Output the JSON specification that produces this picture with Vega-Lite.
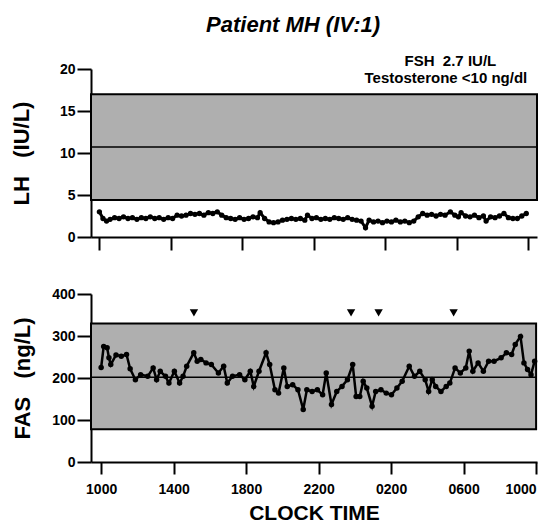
{
  "$schema": "https://vega.github.io/schema/vega-lite/v6.json",
  "padding": {"left": 10, "top": 14, "right": 0, "bottom": 0},
  "title": {"text": "Patient MH (IV:1)", "font": "Liberation Sans", "fontSize": 22, "fontStyle": "italic", "fontWeight": "bold", "color": "black", "anchor": "middle", "dx": 18, "offset": 17},
  "config": {
    "view": {"stroke": null},
    "font": "Liberation Sans",
    "axis": {"domainColor": "black", "domainWidth": 2, "tickColor": "black", "tickWidth": 2, "grid": false, "labelFont": "Liberation Sans", "labelFontWeight": "bold", "labelFontSize": 14, "labelColor": "black", "titleFont": "Liberation Sans", "titleFontSize": 22, "titleFontWeight": "bold", "titleColor": "black"}
  },
  "datasets": {
    "bandTop": [{"t": -0.47, "t2": 24.5, "v": 4.4, "v2": 17.0}],
    "midTop": [{"t": -0.47, "t2": 24.5, "v": 10.7}],
    "bandBottom": [{"t": -0.56, "t2": 24.0, "v": 78, "v2": 330}],
    "midBottom": [{"t": -0.56, "t2": 24.0, "v": 202}],
    "notes": [{"t": 19.65, "v": 20.3, "label": "FSH\u00a0\u00a02.7 IU/L"}, {"t": 19.4, "v": 18.3, "label": "Testosterone <10 ng/dl"}],
    "arrows": [{"t": 5.12, "v": 355}, {"t": 13.79, "v": 355}, {"t": 15.31, "v": 355}, {"t": 19.45, "v": 355}],
    "lh": [
      {"t": 0, "v": 3.0}, {"t": 0.2, "v": 2.2}, {"t": 0.4, "v": 1.9}, {"t": 0.6, "v": 2.1}, {"t": 0.85, "v": 2.3},
      {"t": 1.1, "v": 2.2}, {"t": 1.35, "v": 2.4}, {"t": 1.6, "v": 2.2}, {"t": 1.85, "v": 2.3}, {"t": 2.1, "v": 2.1},
      {"t": 2.35, "v": 2.3}, {"t": 2.6, "v": 2.2}, {"t": 2.85, "v": 2.4}, {"t": 3.1, "v": 2.2}, {"t": 3.35, "v": 2.3},
      {"t": 3.6, "v": 2.1}, {"t": 3.85, "v": 2.3}, {"t": 4.1, "v": 2.2}, {"t": 4.35, "v": 2.6}, {"t": 4.6, "v": 2.5},
      {"t": 4.85, "v": 2.6}, {"t": 5.1, "v": 2.8}, {"t": 5.35, "v": 2.7}, {"t": 5.6, "v": 2.8}, {"t": 5.85, "v": 2.6},
      {"t": 6.1, "v": 2.9}, {"t": 6.35, "v": 2.8}, {"t": 6.6, "v": 3.0}, {"t": 6.85, "v": 2.6}, {"t": 7.1, "v": 2.3},
      {"t": 7.35, "v": 2.2}, {"t": 7.6, "v": 2.1}, {"t": 7.85, "v": 2.3}, {"t": 8.1, "v": 2.1}, {"t": 8.35, "v": 2.2},
      {"t": 8.6, "v": 2.4}, {"t": 8.85, "v": 2.3}, {"t": 9.0, "v": 2.9}, {"t": 9.25, "v": 2.2}, {"t": 9.5, "v": 1.8},
      {"t": 9.75, "v": 1.7}, {"t": 10.0, "v": 1.8}, {"t": 10.25, "v": 2.0}, {"t": 10.5, "v": 2.1}, {"t": 10.75, "v": 2.2},
      {"t": 11.0, "v": 2.1}, {"t": 11.25, "v": 2.2}, {"t": 11.5, "v": 2.0}, {"t": 11.65, "v": 2.6}, {"t": 11.9, "v": 2.2},
      {"t": 12.15, "v": 2.3}, {"t": 12.4, "v": 2.1}, {"t": 12.65, "v": 2.2}, {"t": 12.9, "v": 2.1}, {"t": 13.15, "v": 2.3},
      {"t": 13.4, "v": 2.2}, {"t": 13.65, "v": 2.1}, {"t": 13.9, "v": 2.3}, {"t": 14.15, "v": 2.1}, {"t": 14.4, "v": 2.0},
      {"t": 14.65, "v": 1.9}, {"t": 14.9, "v": 1.1}, {"t": 15.1, "v": 2.0}, {"t": 15.35, "v": 1.8}, {"t": 15.6, "v": 1.9},
      {"t": 15.85, "v": 1.7}, {"t": 16.1, "v": 1.9}, {"t": 16.35, "v": 1.8}, {"t": 16.6, "v": 2.0}, {"t": 16.85, "v": 1.8},
      {"t": 17.1, "v": 1.9}, {"t": 17.35, "v": 1.7}, {"t": 17.6, "v": 1.9}, {"t": 17.85, "v": 2.4}, {"t": 18.1, "v": 2.8},
      {"t": 18.35, "v": 2.6}, {"t": 18.6, "v": 2.7}, {"t": 18.85, "v": 2.5}, {"t": 19.1, "v": 2.7}, {"t": 19.35, "v": 2.6},
      {"t": 19.65, "v": 3.0}, {"t": 19.9, "v": 2.6}, {"t": 20.1, "v": 2.4}, {"t": 20.25, "v": 2.9}, {"t": 20.5, "v": 2.5},
      {"t": 20.75, "v": 2.4}, {"t": 21.0, "v": 2.6}, {"t": 21.25, "v": 2.3}, {"t": 21.5, "v": 2.5}, {"t": 21.65, "v": 1.9},
      {"t": 21.9, "v": 2.4}, {"t": 22.15, "v": 2.3}, {"t": 22.4, "v": 2.5}, {"t": 22.65, "v": 2.8}, {"t": 22.9, "v": 2.3},
      {"t": 23.15, "v": 2.2}, {"t": 23.4, "v": 2.2}, {"t": 23.65, "v": 2.5}, {"t": 23.9, "v": 2.8}
    ],
    "fas": [
      {"t": 0.0, "v": 225}, {"t": 0.14, "v": 275}, {"t": 0.33, "v": 272}, {"t": 0.43, "v": 248}, {"t": 0.53, "v": 232},
      {"t": 0.82, "v": 255}, {"t": 1.11, "v": 252}, {"t": 1.4, "v": 256}, {"t": 1.6, "v": 222}, {"t": 1.89, "v": 196},
      {"t": 2.18, "v": 208}, {"t": 2.57, "v": 204}, {"t": 2.87, "v": 224}, {"t": 3.06, "v": 196}, {"t": 3.26, "v": 216},
      {"t": 3.55, "v": 204}, {"t": 3.74, "v": 188}, {"t": 4.04, "v": 216}, {"t": 4.33, "v": 188}, {"t": 4.52, "v": 204},
      {"t": 4.72, "v": 228}, {"t": 5.11, "v": 260}, {"t": 5.3, "v": 240}, {"t": 5.5, "v": 244}, {"t": 5.79, "v": 236},
      {"t": 6.08, "v": 232}, {"t": 6.47, "v": 212}, {"t": 6.76, "v": 228}, {"t": 6.96, "v": 188}, {"t": 7.25, "v": 204},
      {"t": 7.64, "v": 208}, {"t": 7.93, "v": 196}, {"t": 8.23, "v": 216}, {"t": 8.42, "v": 180}, {"t": 8.71, "v": 216},
      {"t": 9.1, "v": 260}, {"t": 9.3, "v": 232}, {"t": 9.59, "v": 172}, {"t": 9.79, "v": 164}, {"t": 10.08, "v": 224},
      {"t": 10.27, "v": 180}, {"t": 10.57, "v": 184}, {"t": 10.86, "v": 172}, {"t": 11.15, "v": 125}, {"t": 11.35, "v": 172},
      {"t": 11.64, "v": 168}, {"t": 11.93, "v": 172}, {"t": 12.22, "v": 160}, {"t": 12.42, "v": 212}, {"t": 12.71, "v": 137},
      {"t": 13.0, "v": 168}, {"t": 13.29, "v": 180}, {"t": 13.59, "v": 196}, {"t": 13.88, "v": 232}, {"t": 14.07, "v": 156},
      {"t": 14.27, "v": 156}, {"t": 14.46, "v": 192}, {"t": 14.66, "v": 176}, {"t": 14.95, "v": 133}, {"t": 15.15, "v": 168},
      {"t": 15.44, "v": 172}, {"t": 15.73, "v": 164}, {"t": 16.02, "v": 160}, {"t": 16.32, "v": 176}, {"t": 16.61, "v": 192},
      {"t": 17.0, "v": 228}, {"t": 17.29, "v": 204}, {"t": 17.58, "v": 216}, {"t": 17.88, "v": 196}, {"t": 18.07, "v": 168},
      {"t": 18.27, "v": 196}, {"t": 18.46, "v": 180}, {"t": 18.75, "v": 168}, {"t": 19.04, "v": 180}, {"t": 19.24, "v": 188},
      {"t": 19.53, "v": 224}, {"t": 19.82, "v": 212}, {"t": 20.12, "v": 224}, {"t": 20.31, "v": 264}, {"t": 20.51, "v": 216},
      {"t": 20.8, "v": 236}, {"t": 21.09, "v": 216}, {"t": 21.38, "v": 240}, {"t": 21.68, "v": 240}, {"t": 22.07, "v": 248},
      {"t": 22.36, "v": 260}, {"t": 22.65, "v": 256}, {"t": 22.85, "v": 280}, {"t": 23.14, "v": 299}, {"t": 23.33, "v": 236},
      {"t": 23.53, "v": 220}, {"t": 23.72, "v": 208}, {"t": 23.92, "v": 240}
    ]
  },
  "spacing": 36,
  "resolve": {"scale": {"x": "independent", "y": "independent"}},
  "vconcat": [
    {
      "width": 446,
      "height": 168,
      "encoding": {
        "x": {"field": "t", "type": "quantitative", "scale": {"domain": [-0.47, 24.5], "nice": false, "zero": false}, "axis": {"values": [0, 4, 8, 12, 16, 20, 24], "labels": false, "title": null, "tickSize": 13}},
        "y": {"field": "v", "type": "quantitative", "scale": {"domain": [0, 20], "nice": false}, "axis": {"values": [0, 5, 10, 15, 20], "tickSize": 14, "labelPadding": 2, "title": "LH\u00a0\u00a0\u00a0(IU/L)", "titlePadding": 26}}
      },
      "layer": [
        {"data": {"name": "bandTop"}, "mark": {"type": "rect", "fill": "#afafaf", "stroke": "black", "strokeWidth": 2}, "encoding": {"x2": {"field": "t2"}, "y2": {"field": "v2"}}},
        {"data": {"name": "midTop"}, "mark": {"type": "rule", "color": "black", "strokeWidth": 1.5}, "encoding": {"x2": {"field": "t2"}}},
        {"data": {"name": "lh"}, "mark": {"type": "line", "color": "black", "strokeWidth": 3}, "encoding": {}},
        {"data": {"name": "lh"}, "mark": {"type": "point", "filled": true, "color": "black", "opacity": 1, "size": 28}, "encoding": {}},
        {"data": {"name": "notes"}, "mark": {"type": "text", "fontWeight": "bold", "fontSize": 15, "align": "center", "baseline": "alphabetic", "color": "black"}, "encoding": {"text": {"field": "label"}}}
      ]
    },
    {
      "width": 446,
      "height": 168,
      "encoding": {
        "x": {"field": "t", "type": "quantitative", "scale": {"domain": [-0.56, 24.05], "nice": false, "zero": false}, "axis": {"values": [0, 4, 8, 12, 16, 20, 24], "labelExpr": "format(((datum.value + 10) % 24) * 100, '04d')", "tickSize": 12, "labelPadding": 8, "title": "CLOCK TIME", "titleFontSize": 21, "titlePadding": 6}},
        "y": {"field": "v", "type": "quantitative", "scale": {"domain": [0, 400], "nice": false}, "axis": {"values": [0, 100, 200, 300, 400], "tickSize": 14, "labelPadding": 2, "title": "FAS\u00a0\u00a0\u00a0(ng/L)", "titlePadding": 17}}
      },
      "layer": [
        {"data": {"name": "bandBottom"}, "mark": {"type": "rect", "fill": "#afafaf", "stroke": "black", "strokeWidth": 2}, "encoding": {"x2": {"field": "t2"}, "y2": {"field": "v2"}}},
        {"data": {"name": "midBottom"}, "mark": {"type": "rule", "color": "black", "strokeWidth": 1.5}, "encoding": {"x2": {"field": "t2"}}},
        {"data": {"name": "fas"}, "mark": {"type": "line", "color": "black", "strokeWidth": 2.5}, "encoding": {}},
        {"data": {"name": "fas"}, "mark": {"type": "point", "filled": true, "color": "black", "opacity": 1, "size": 30}, "encoding": {}},
        {"data": {"name": "arrows"}, "mark": {"type": "point", "shape": "triangle-down", "filled": true, "color": "black", "opacity": 1, "size": 70}, "encoding": {}}
      ]
    }
  ]
}
